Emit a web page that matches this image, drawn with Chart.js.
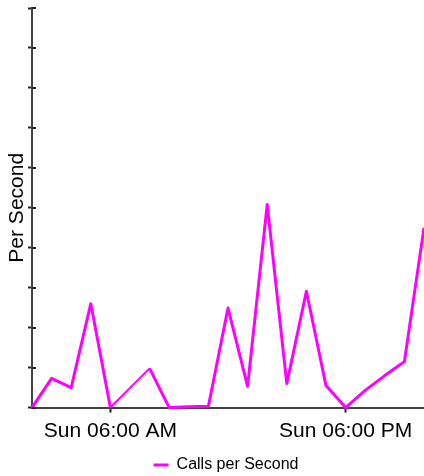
<!DOCTYPE html>
<html>
<head>
<meta charset="utf-8">
<script src="https://cdn.jsdelivr.net/npm/chart.js@4/dist/chart.umd.min.js"></script>
<style>
  html, body { margin: 0; padding: 0; background: #fff; }
  #wrap { width: 424px; height: 476px; }
</style>
</head>
<body>
<div id="wrap"><canvas id="chart" width="424" height="476"></canvas></div>
<script>
// hourly samples, Sunday 02:00 .. 22:00
const hours = [2, 3, 4, 5, 6, 7, 8, 9, 10, 11, 12, 13, 14, 15, 16, 17, 18, 19, 20, 21, 22];
const callsPerSecond = [0, 0.73, 0.5, 2.6, 0, null, 0.98, 0, 0.02, 0.03, 2.49, 0.53, 5.08, 0.6, 2.91, 0.55, 0, 0.43, 0.8, 1.15, 4.5];
const xTickHours = [6, 18];
const xTickLabels = ["Sun 06:00 AM", "Sun 06:00 PM"];
const yTicks = [0, 1, 2, 3, 4, 5, 6, 7, 8, 9, 10];

const font = "'Liberation Sans', Arial, sans-serif";

// ticks on the y axis cross the axis line, draw the inner half too
const innerTicks = {
  id: "innerTicks",
  afterDraw(chart) {
    const ctx = chart.ctx;
    const y = chart.scales.y;
    const left = chart.chartArea.left;
    ctx.save();
    ctx.strokeStyle = "#222";
    ctx.lineWidth = 2;
    y.ticks.forEach(t => {
      const py = Math.round(y.getPixelForValue(t.value));
      ctx.beginPath();
      ctx.moveTo(left, py);
      ctx.lineTo(left + 4, py);
      ctx.stroke();
    });
    ctx.restore();
  }
};

// legend sits a bit right of centre in the original
const legendShift = {
  id: "legendShift",
  beforeDraw(chart) {
    if (!chart.legend._shifted) {
      chart.legend.left += 14;
      chart.legend.right += 14;
      chart.legend._shifted = true;
    }
  },
  afterLayout(chart) {
    chart.legend._shifted = false;
  }
};

new Chart(document.getElementById("chart"), {
  type: "line",
  data: {
    datasets: [{
      label: "Calls per Second",
      data: hours.map((h, i) => ({ x: h, y: callsPerSecond[i] })),
      borderColor: "#ff00ff",
      backgroundColor: "#ff00ff",
      borderWidth: 3,
      borderJoinStyle: "round",
      pointRadius: 0,
      tension: 0,
      spanGaps: true,
      segment: {
        borderWidth: c => (c.p0.skip || c.p1.skip) ? 2 : undefined
      },
      clip: 4
    }]
  },
  options: {
    responsive: false,
    animation: false,
    devicePixelRatio: 1,
    layout: { padding: { top: 8, right: 0, left: 0, bottom: -7 } },
    plugins: {
      legend: {
        position: "bottom",
        labels: {
          color: "#000",
          font: { family: font, size: 16 },
          usePointStyle: true,
          pointStyle: "line",
          pointStyleWidth: 15,
          boxWidth: 15,
          boxHeight: 8,
          padding: 8
        }
      },
      tooltip: { enabled: false }
    },
    scales: {
      x: {
        type: "linear",
        min: 2,
        max: 22,
        afterBuildTicks: scale => {
          scale.ticks = xTickHours.map(v => ({ value: v }));
        },
        ticks: {
          color: "#000",
          font: { family: font, size: 21, lineHeight: 1.45 },
          padding: 3,
          maxRotation: 0,
          autoSkip: false,
          callback: v => xTickLabels[xTickHours.indexOf(v)]
        },
        grid: {
          drawOnChartArea: false,
          drawTicks: true,
          tickLength: 5,
          tickWidth: 2,
          tickColor: "#222"
        },
        border: { display: true, color: "#444", width: 2 }
      },
      y: {
        min: 0,
        max: 10,
        afterBuildTicks: scale => {
          scale.ticks = yTicks.map(v => ({ value: v }));
        },
        ticks: { display: false },
        grid: {
          drawOnChartArea: false,
          drawTicks: true,
          tickLength: 4,
          tickWidth: 2,
          tickColor: "#222"
        },
        border: { display: true, color: "#444", width: 2 },
        title: {
          display: true,
          text: "Per Second",
          color: "#000",
          font: { family: font, size: 21, lineHeight: 1 },
          padding: { top: 7, bottom: 0 }
        }
      }
    }
  },
  plugins: [innerTicks, legendShift]
});
</script>
</body>
</html>
